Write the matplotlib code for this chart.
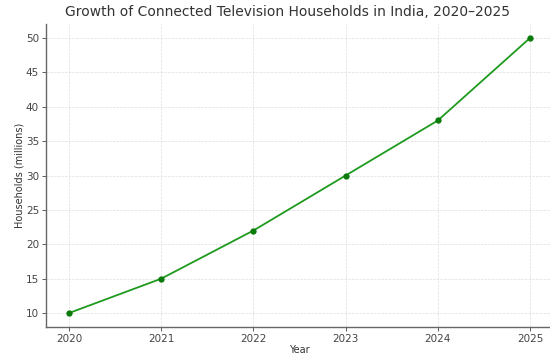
import matplotlib.pyplot as plt

years = [2020, 2021, 2022, 2023, 2024, 2025]
households = [10, 15, 22, 30, 38, 50]  # millions

fig = plt.figure(figsize=(5.5, 3.56), dpi=100)
ax = fig.add_axes([0.0836, 0.082, 0.922, 0.85])

ax.plot(years, households, color='#1f9a1f', marker='o', markersize=3.5,
        markerfacecolor='#0a7a0a', markeredgecolor='#0a7a0a', linewidth=1.3)

ax.set_title('Growth of Connected Television Households in India, 2020–2025',
             fontsize=10, color='#333333', pad=6, x=0.477)
ax.set_xlabel('Year', fontsize=7, color='#333333', labelpad=1)
ax.set_ylabel('Households (millions)', fontsize=7, color='#333333', labelpad=1)
ax.set_xticks(years)
ax.tick_params(labelsize=7.5, colors='#444444', length=3, width=0.6, pad=2)
ax.grid(True, linestyle='--', linewidth=0.5, color='#dddddd')

for side in ['top', 'right']:
    ax.spines[side].set_visible(False)
for side in ['left', 'bottom']:
    ax.spines[side].set_color('#666666')
    ax.spines[side].set_linewidth(1.0)

fig.savefig('out.png', dpi=100)
